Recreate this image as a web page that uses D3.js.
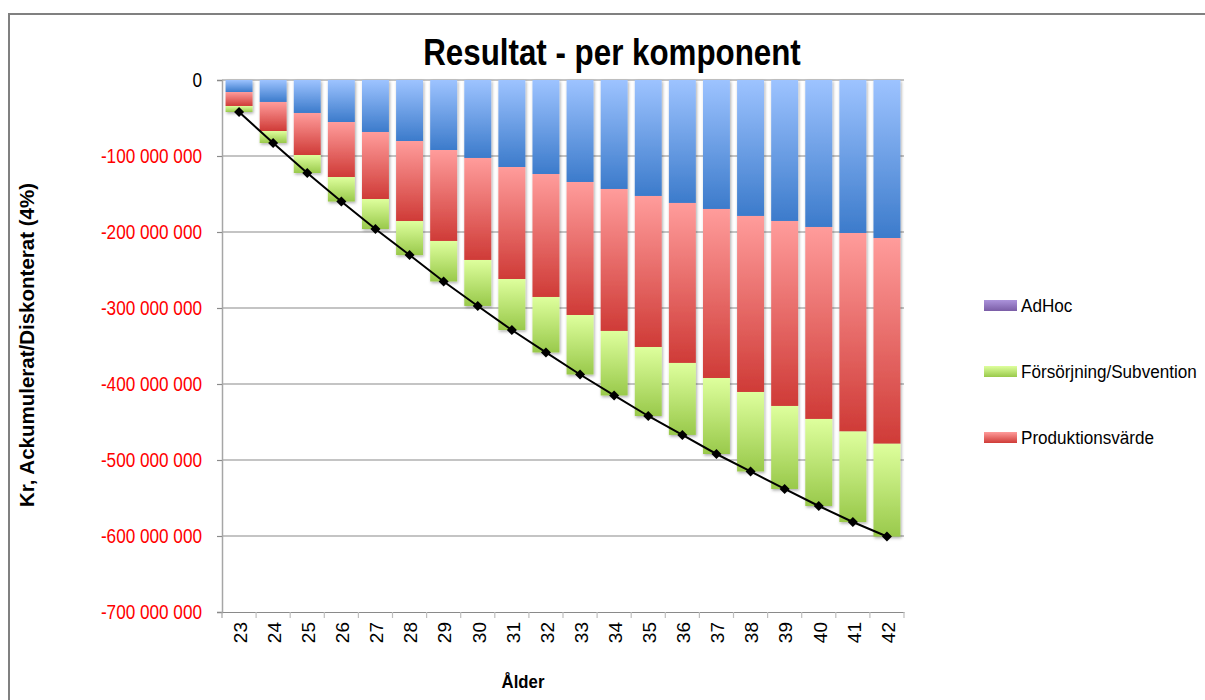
<!DOCTYPE html>
<html>
<head>
<meta charset="utf-8">
<script src="https://cdn.jsdelivr.net/npm/d3@7"></script>
<style>
  html, body { margin: 0; padding: 0; background: #fff; }
  svg { display: block; font-family: "Liberation Sans", Arial, sans-serif; }
</style>
</head>
<body>
<svg id="chart" width="1205" height="700"></svg>
<script>
// ---------------- data ----------------
const ages = ["23","24","25","26","27","28","29","30","31","32","33","34","35","36","37","38","39","40","41","42"];
// blue component (not shown in legend)
const ovrigt = [-15.8e6,-28.9e6,-43.4e6,-55.3e6,-68.4e6,-80.3e6,-92.1e6,-102.6e6,-114.5e6,-123.7e6,-134.2e6,-143.4e6,-152.6e6,-161.8e6,-169.7e6,-178.9e6,-185.5e6,-193.4e6,-201.3e6,-207.9e6];
const produktionsvarde = [-18.4e6,-38.2e6,-55.3e6,-72.4e6,-88.2e6,-105.3e6,-119.7e6,-134.2e6,-147.4e6,-161.8e6,-175.0e6,-186.8e6,-198.7e6,-210.5e6,-222.4e6,-231.6e6,-243.4e6,-252.6e6,-261.2e6,-270.7e6];
const forsorjning = [-7.9e6,-15.8e6,-23.7e6,-32.2e6,-39.5e6,-44.7e6,-53.3e6,-60.5e6,-67.1e6,-73.0e6,-78.3e6,-84.9e6,-90.8e6,-94.7e6,-100.0e6,-104.6e6,-109.2e6,-114.5e6,-119.1e6,-122.1e6];
const adhoc = [0,0,0,0,0,0,0,0,0,0,0,0,0,0,0,0,0,0,0,0];
const yTicks = [0,-100e6,-200e6,-300e6,-400e6,-500e6,-600e6,-700e6];
const legendItems = ["AdHoc","Försörjning/Subvention","Produktionsvärde"];

const title = "Resultat - per komponent";
const yTitle = "Kr, Ackumulerat/Diskonterat (4%)";
const xTitle = "Ålder";

// ---------------- setup ----------------
const svg = d3.select("#chart");
const keys = ["ovrigt","produktionsvarde","forsorjning","adhoc"];
const table = ages.map((a,i) => ({age:a, ovrigt:ovrigt[i], produktionsvarde:produktionsvarde[i], forsorjning:forsorjning[i], adhoc:adhoc[i]}));
const totals = table.map(d => d3.sum(keys, k => d[k]));

const L = 222, R = 904, T = 80, B = 612;
const x = d3.scaleBand().domain(ages).range([L, R]).paddingInner(0.21).paddingOuter(0.105);
const y = d3.scaleLinear().domain([-700e6, 0]).range([B, T]);

const defs = svg.append("defs");
const grads = {
  ovrigt: ["#9DC3FF", "#3C7BCB"],
  produktionsvarde: ["#FF9C9B", "#CF3B37"],
  forsorjning: ["#DEFF9D", "#99C94B"],
  adhoc: ["#AC93DB", "#7A5DA6"]
};
Object.entries(grads).forEach(([k, c]) => {
  const g = defs.append("linearGradient").attr("id", "g-" + k).attr("x1", 0).attr("y1", 0).attr("x2", 0).attr("y2", 1);
  g.append("stop").attr("offset", "0%").attr("stop-color", c[0]);
  g.append("stop").attr("offset", "100%").attr("stop-color", c[1]);
});
const f = defs.append("filter").attr("id", "shadow").attr("x", "-20%").attr("y", "-20%").attr("width", "150%").attr("height", "150%");
f.append("feDropShadow").attr("dx", 1).attr("dy", 1.5).attr("stdDeviation", 1.6).attr("flood-color", "#000").attr("flood-opacity", 0.33);

// frame
svg.append("rect").attr("x", 9).attr("y", 14).attr("width", 1300).attr("height", 800)
  .attr("fill", "none").attr("stroke", "#808080").attr("stroke-width", 2);

// gridlines
svg.append("g").selectAll("line").data(yTicks.filter(v => v !== -700e6)).join("line")
  .attr("x1", L).attr("x2", R).attr("y1", d => y(d)).attr("y2", d => y(d))
  .attr("stroke", "#8A8A8A").attr("stroke-width", 1.2);

// y axis
const fmt = d3.formatLocale({decimal: ",", thousands: " ", grouping: [3], currency: ["", ""], minus: "-"}).format(",.0f");
const yAxis = svg.append("g").attr("transform", `translate(${L},0)`)
  .call(d3.axisLeft(y).tickValues(yTicks).tickSize(5).tickFormat(""));
yAxis.select(".domain").attr("stroke", "#A6A6A6").attr("stroke-width", 1.5);
yAxis.selectAll(".tick line").attr("stroke", "#8A8A8A").attr("stroke-width", 1.2);
svg.append("g").selectAll("text").data(yTicks).join("text")
  .attr("transform", d => `translate(202,${y(d)}) scale(0.88,1)`)
  .attr("text-anchor", "end").attr("dy", "0.36em")
  .attr("font-size", 19.5)
  .attr("fill", d => d === 0 ? "#000" : "#FF0000")
  .text(d => fmt(d));

// x axis
const xAxis = svg.append("g").attr("transform", `translate(0,${B})`)
  .call(d3.axisBottom(x).tickSize(0).tickFormat(""));
xAxis.select(".domain").attr("stroke", "#8A8A8A").attr("stroke-width", 1.2);
// category boundary ticks
const step = x.step();
svg.append("g").selectAll("line").data(d3.range(ages.length + 1)).join("line")
  .attr("x1", i => L + i * step).attr("x2", i => L + i * step)
  .attr("y1", B).attr("y2", B + 6)
  .attr("stroke", i => i === 0 ? "#A6A6A6" : "#BFBFBF").attr("stroke-width", 1.2);
svg.append("g").selectAll("text").data(ages).join("text")
  .attr("transform", d => `translate(${x(d) + x.bandwidth()/2 + 1},622) rotate(-90)`)
  .attr("text-anchor", "end").attr("dy", "0.36em")
  .attr("font-size", 19).attr("fill", "#000")
  .text(d => d);

// bars
const stack = d3.stack().keys(keys).offset(d3.stackOffsetDiverging)(table);
const barG = svg.append("g").attr("filter", "url(#shadow)");
stack.forEach(layer => {
  barG.append("g").selectAll("rect").data(layer.filter(d => d[1] - d[0] !== 0)).join("rect")
    .attr("x", d => x(d.data.age))
    .attr("width", x.bandwidth())
    .attr("y", d => y(d[1]))
    .attr("height", d => y(d[0]) - y(d[1]))
    .attr("fill", `url(#g-${layer.key})`);
});

// total line
const line = d3.line().x((d, i) => x(ages[i]) + x.bandwidth()/2).y(d => y(d));
svg.append("path").datum(totals).attr("d", line)
  .attr("fill", "none").attr("stroke", "#000").attr("stroke-width", 2);
svg.append("g").selectAll("path").data(totals).join("path")
  .attr("transform", (d, i) => `translate(${x(ages[i]) + x.bandwidth()/2},${y(d)})`)
  .attr("d", d3.symbol(d3.symbolDiamond2, 64)())
  .attr("fill", "#000");

// title
svg.append("text").attr("transform", "translate(612,65) scale(0.87,1)")
  .attr("text-anchor", "middle").attr("font-size", 36).attr("font-weight", "bold")
  .text(title);

// axis titles
svg.append("text").attr("transform", "translate(34,345) rotate(-90)")
  .attr("text-anchor", "middle").attr("font-size", 20.5).attr("font-weight", "bold")
  .text(yTitle);
svg.append("text").attr("transform", "translate(523,688) scale(0.93,1)")
  .attr("text-anchor", "middle").attr("font-size", 18).attr("font-weight", "bold")
  .text(xTitle);

// legend
const legKeys = ["adhoc","forsorjning","produktionsvarde"];
const leg = svg.append("g").selectAll("g").data(legendItems).join("g")
  .attr("transform", (d, i) => `translate(984,${305.5 + i * 66})`);
leg.append("rect").attr("x", 0).attr("y", -5.5).attr("width", 33).attr("height", 11)
  .attr("fill", (d, i) => `url(#g-${legKeys[i]})`);
leg.append("text").attr("transform", "translate(37,0) scale(0.9,1)")
  .attr("dy", "0.36em").attr("font-size", 19).attr("fill", "#000")
  .text(d => d);
</script>
</body>
</html>
